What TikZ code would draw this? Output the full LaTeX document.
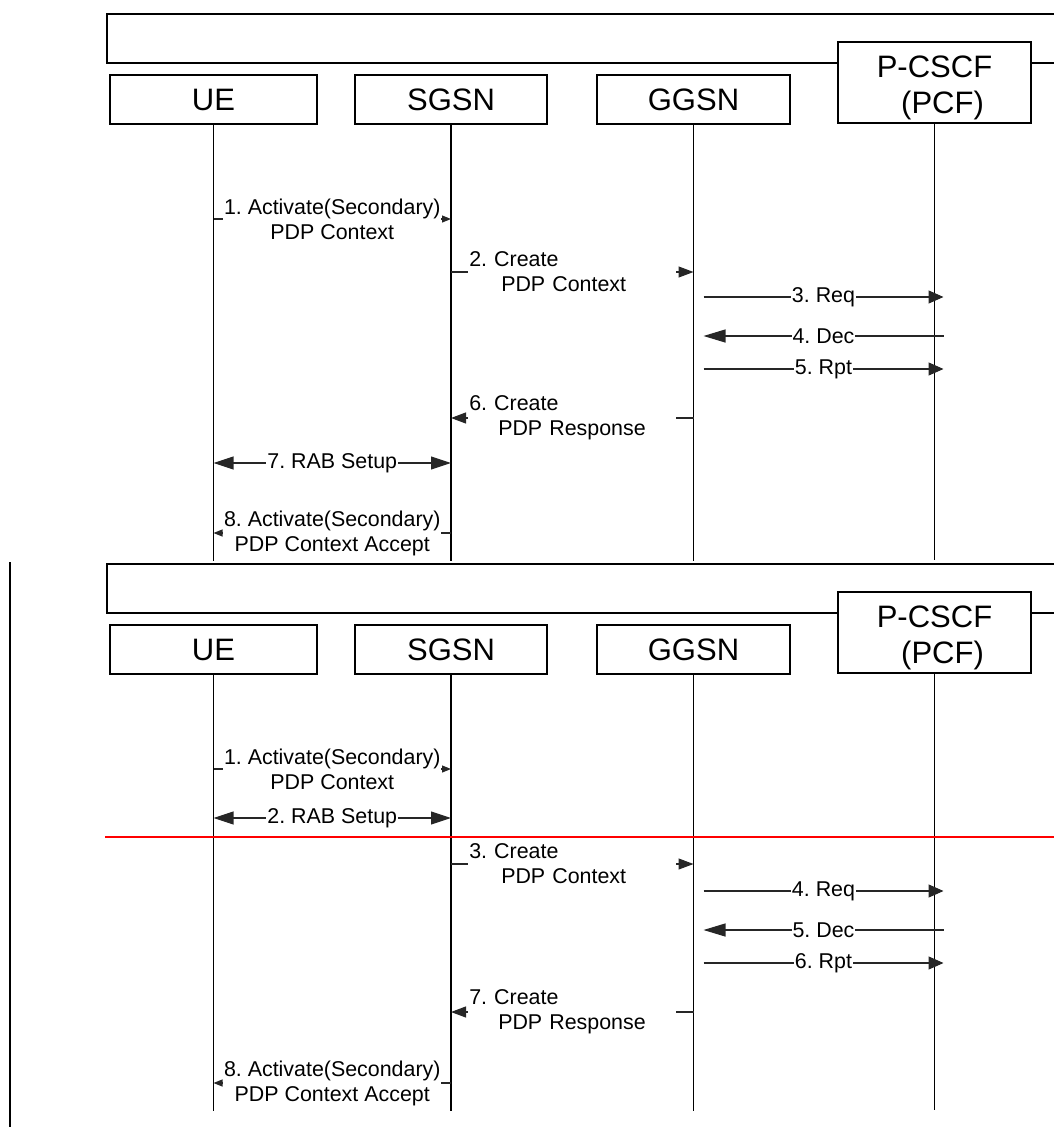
\documentclass[tikz,border=0pt]{standalone}
\usepackage{fontspec}
\setmainfont{Liberation Sans}
\usetikzlibrary{arrows.meta, positioning}
\frenchspacing

\begin{document}
\begin{tikzpicture}[
    x=1pt, y=-1pt,
    actor/.style={rectangle, draw, fill=white, line width=1.6pt, minimum height=49pt, inner sep=0pt, align=center, font=\fontsize{31}{36}\selectfont},
    board/.style={rectangle, draw, line width=1.6pt, minimum width=990pt, minimum height=49pt, anchor=north west},
    lifeline/.style={line width=1.8pt},
    msg/.style={line width=1.1pt, draw=black!85},
    lbl/.style={fill=white, inner xsep=1pt, inner ysep=1pt, align=center, font=\fontsize{21.4}{25}\selectfont},
    lblw/.style={lbl, text width=206pt, align=left},
    tipS/.style={arrows={-Triangle[length=9pt, width=7pt]}},
    tipM/.style={arrows={-Triangle[length=15pt, width=11pt]}},
    tipL/.style={arrows={-Triangle[length=15pt, width=13pt]}},
    tipD/.style={arrows={-Triangle[length=22pt, width=13pt]}},
    rab/.style={arrows={Triangle[length=20pt, width=13pt]-Triangle[length=20pt, width=13pt]}}
]
    \useasboundingbox (0,0) rectangle (1054,1127);
    \clip (0,0) rectangle (1054,1127);

    % entities and lifelines, drawn twice
    \foreach \k/\dy in {1/0, 2/550} {
        \begin{scope}[yshift=-\dy pt]
            \node[board] (frame\k) at (106,13) {};
            \node[actor, minimum width=207pt] (ue\k) at (213.5,99.5) {UE};
            \node[actor, minimum width=192pt] (sgsn\k) at (451,99.5) {SGSN};
            \node[actor, minimum width=193pt] (ggsn\k) at (693.5,99.5) {GGSN};
            \node[actor, minimum width=193pt, minimum height=81pt] (pcscf\k) at (934.5,82.5) {\rule{0pt}{33pt}P-CSCF\\\hspace*{16pt}(PCF)};
            \foreach \n in {ue,sgsn,ggsn,pcscf}
                \draw[lifeline] (\n\k.south) -- ++(0,436);
        \end{scope}
    }

    \draw[lifeline] (10,562) -- (10,1127);

    % first flow
    \draw[msg, tipS] (ue1 |- 0,219) -- node[lbl] (a1) {1. Activate(Secondary)\\PDP Context} (sgsn1 |- 0,219);
    \draw[msg, tipM] (sgsn1 |- 0,272) -- node[lblw] (a2) {2. Create\\\hspace*{32pt}PDP Context} (ggsn1 |- 0,272);
    \draw[msg, tipL] ([xshift=10pt]ggsn1 |- 0,297) -- node[lbl] (a3) {3. Req} ([xshift=9pt]pcscf1 |- 0,297);
    \draw[msg, tipD] ([xshift=9pt]pcscf1 |- 0,336) -- node[lbl] (a4) {4. Dec} ([xshift=10pt]ggsn1 |- 0,336);
    \draw[msg, tipL] ([xshift=10pt]ggsn1 |- 0,369) -- node[lbl] (a5) {5. Rpt} ([xshift=9pt]pcscf1 |- 0,369);
    \draw[msg, tipM] (ggsn1 |- 0,418) -- node[lblw] (a6) {6. Create\\\hspace*{29pt}PDP Response} (sgsn1 |- 0,418);
    \draw[msg, rab] (ue1 |- 0,463) -- node[lbl] (a7) {7. RAB Setup} (sgsn1 |- 0,463);
    \draw[msg, tipS] (sgsn1 |- 0,533) -- node[lbl] (a8) {8. Activate(Secondary)\\PDP Context Accept} (ue1 |- 0,533);

    % second flow
    \draw[msg, tipS] (ue2 |- 0,769) -- node[lbl] (b1) {1. Activate(Secondary)\\PDP Context} (sgsn2 |- 0,769);
    \draw[msg, rab] (ue2 |- 0,818) -- node[lbl] (b2) {2. RAB Setup} (sgsn2 |- 0,818);
    \draw[draw=red, line width=1.3pt] (105,837) -- (1054,837);
    \draw[msg, tipM] (sgsn2 |- 0,864) -- node[lblw] (b3) {3. Create\\\hspace*{32pt}PDP Context} (ggsn2 |- 0,864);
    \draw[msg, tipL] ([xshift=10pt]ggsn2 |- 0,891) -- node[lbl] (b4) {4. Req} ([xshift=9pt]pcscf2 |- 0,891);
    \draw[msg, tipD] ([xshift=9pt]pcscf2 |- 0,930) -- node[lbl] (b5) {5. Dec} ([xshift=10pt]ggsn2 |- 0,930);
    \draw[msg, tipL] ([xshift=10pt]ggsn2 |- 0,963) -- node[lbl] (b6) {6. Rpt} ([xshift=9pt]pcscf2 |- 0,963);
    \draw[msg, tipM] (ggsn2 |- 0,1012) -- node[lblw] (b7) {7. Create\\\hspace*{29pt}PDP Response} (sgsn2 |- 0,1012);
    \draw[msg, tipS] (sgsn2 |- 0,1083) -- node[lbl] (b8) {8. Activate(Secondary)\\PDP Context Accept} (ue2 |- 0,1083);
\end{tikzpicture}
\end{document}
